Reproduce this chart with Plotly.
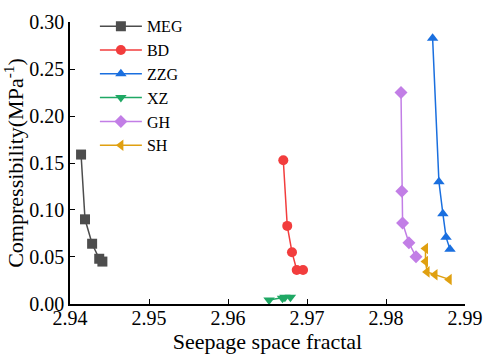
import plotly.graph_objects as go

names = ["MEG", "BD", "ZZG", "XZ", "GH", "SH"]
meg_x = [2.9414, 2.9419, 2.9428, 2.9437, 2.9441]
meg_y = [0.159, 0.090, 0.064, 0.048, 0.045]
bd_x = [2.9670, 2.9675, 2.9681, 2.9687, 2.9695]
bd_y = [0.153, 0.083, 0.055, 0.036, 0.036]
zzg_x = [2.9859, 2.9867, 2.9872, 2.9876, 2.9881]
zzg_y = [0.283, 0.130, 0.096, 0.071, 0.058]
xz_x = [2.9652, 2.9669, 2.9672, 2.9679]
xz_y = [0.004, 0.006, 0.007, 0.007]
gh_x = [2.9819, 2.9820, 2.9821, 2.9829, 2.9838]
gh_y = [0.225, 0.120, 0.086, 0.065, 0.050]
sh_x = [2.9850, 2.9850, 2.9852, 2.9862, 2.9880]
sh_y = [0.059, 0.045, 0.034, 0.031, 0.026]
x_ticks = [2.94, 2.95, 2.96, 2.97, 2.98, 2.99]
y_ticks = [0.00, 0.05, 0.10, 0.15, 0.20, 0.25, 0.30]

xs = [meg_x, bd_x, zzg_x, xz_x, gh_x, sh_x]
ys = [meg_y, bd_y, zzg_y, xz_y, gh_y, sh_y]
colors = ["#4d4d4d", "#f23d3d", "#1a6fdf", "#1fa864", "#c27ee6", "#e0a010"]
symbols = ["square", "circle", "triangle-up", "triangle-down", "diamond", "triangle-left"]

fig = go.Figure()
for n, x, y, c, s in zip(names, xs, ys, colors, symbols):
    fig.add_trace(go.Scatter(x=x, y=y, name=n, mode="lines+markers",
                             line=dict(color=c, width=1.5),
                             marker=dict(symbol=s, size=10, color=c)))

font = "Liberation Serif"
fig.update_layout(
    width=484, height=356,
    margin=dict(l=70, r=19, t=9, b=52),
    plot_bgcolor="white", paper_bgcolor="white",
    font=dict(family=font, size=17, color="black"),
    showlegend=True,
    legend=dict(x=0.063, y=1.045, xanchor="left", yanchor="top",
                bgcolor="rgba(0,0,0,0)", font=dict(family=font, size=16),
                tracegroupgap=0, itemwidth=42),
    xaxis=dict(range=[2.94, 2.99], tickvals=x_ticks,
               ticktext=[f"{v:.2f}" for v in x_ticks], automargin=False,
               showgrid=False, zeroline=False, showline=True, linecolor="black",
               linewidth=1.5, ticks="inside", ticklen=5, tickcolor="black",
               ticklabelstandoff=-5,
               tickfont=dict(family=font, size=20),
               title=dict(text="Seepage space fractal", standoff=0,
                          font=dict(family=font, size=22))),
    yaxis=dict(range=[-0.0002, 0.3002], tickvals=y_ticks,
               ticktext=[f"{v:.2f}" for v in y_ticks], automargin=False,
               showgrid=False, zeroline=False, showline=True, linecolor="black",
               linewidth=1.5, ticks="inside", ticklen=5, tickcolor="black",
               tickfont=dict(family=font, size=20),
               title=dict(text="Compressibility(MPa<sup>-1</sup>)", standoff=0,
                          font=dict(family=font, size=22))),
)
fig.write_html("out.html", config={"displayModeBar": False},
               post_script="document.body.style.margin='0';document.body.style.overflow='hidden';")
